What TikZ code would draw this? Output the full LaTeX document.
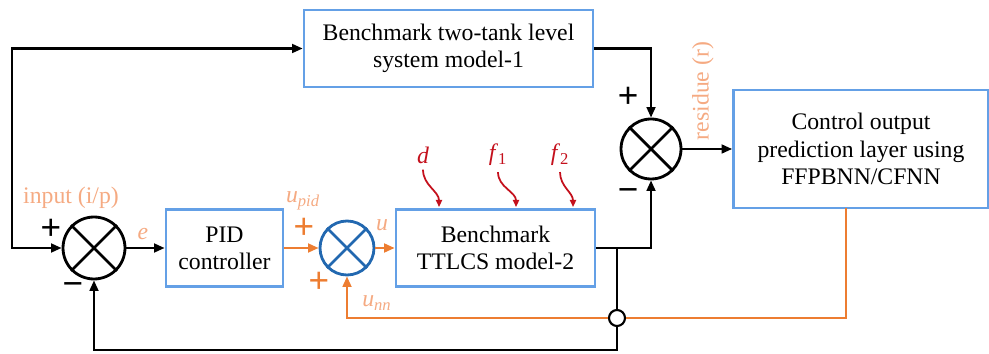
\documentclass[tikz,border=0pt]{standalone}
\usepackage{fontspec}
\setmainfont{Liberation Serif}
\newfontfamily\signfont{Liberation Sans}
\usetikzlibrary{arrows.meta}
\definecolor{boxblue}{HTML}{64A0E6}
\definecolor{sumblue}{HTML}{2268B0}
\definecolor{lineorange}{HTML}{ED7D31}
\definecolor{txtorange}{HTML}{F5AA82}
\definecolor{fred}{HTML}{C4101C}
\begin{document}
\begin{tikzpicture}[x=0.02cm,y=-0.02cm,
	every node/.style={font=\fontsize{13.5}{15.5}\selectfont},
	blockbox/.style={draw=boxblue,line width=1.6pt,align=center,inner sep=0pt},
	sumcirc/.style={circle,draw,line width=1.6pt,minimum size=#1,inner sep=0pt},
	blk/.style={line width=1.3pt,-{Triangle[length=6pt,width=5pt]}},
	blkboth/.style={line width=1.3pt,{Triangle[length=6pt,width=5pt]}-{Triangle[length=6pt,width=5pt]}},
	org/.style={draw=lineorange,line width=1.3pt,-{Triangle[length=6pt,width=5pt]}},
	sq/.style={draw=fred,line width=1pt,-{Triangle[length=4pt,width=3.5pt]}},
	sgn/.style={font=\signfont\fontsize{20}{20}\selectfont,inner sep=0pt},
	olab/.style={text=txtorange,inner sep=0pt}]
	\useasboundingbox (0,0) rectangle (989,354);
	% blocks
	\node[blockbox,minimum width=5.78cm,minimum height=1.54cm] (m1) at (448.5,48.5) {Benchmark two-tank level\\system model-1};
	\node[blockbox,minimum width=2.34cm,minimum height=1.54cm] (pid) at (224.5,248) {PID\\controller};
	\node[blockbox,minimum width=3.98cm,minimum height=1.54cm] (m2) at (495.5,248) {Benchmark\\TTLCS model-2};
	\node[blockbox,minimum width=5.1cm,minimum height=2.36cm] (nn) at (861,149) {Control output\\prediction layer using\\FFPBNN/CFNN};
	% summing points
	\node[sumcirc=1.24cm] (s1) at (94,248) {};
	\node[sumcirc=1.08cm,draw=sumblue] (s2) at (347,248) {};
	\node[sumcirc=1.2cm] (s3) at (651,149) {};
	\draw[line width=1.6pt] (s1.north east) -- (s1.south west) (s1.north west) -- (s1.south east);
	\draw[line width=1.6pt] (s3.north east) -- (s3.south west) (s3.north west) -- (s3.south east);
	\draw[line width=1.6pt,sumblue] (s2.north east) -- (s2.south west) (s2.north west) -- (s2.south east);
	\node[circle,draw,fill=white,line width=1.2pt,minimum width=0.32cm,inner sep=0pt] (hop) at (617,318) {};
	% corners
	\coordinate (bl) at (12,248);
	\coordinate (j1) at (617,248);
	\coordinate (fb) at (617,350);
	\coordinate (nno) at (846,208);
	% black connectors
	\draw[blkboth] (m1.west) -| (bl) -- (s1.west);
	\draw[blk] (s1.east) -- (pid.west);
	\draw[blk] (m1.east) -| (s3.north);
	\draw[blk] (m2.east) -| (s3.south);
	\draw[blk] (s3.east) -- (nn.west);
	\draw[line width=1.3pt] (j1) -- (hop.north);
	\draw[blk] (hop.south) -- (fb) -| (s1.south);
	% orange connectors
	\draw[org] (pid.east) -- (s2.west);
	\draw[org] (s2.east) -- (m2.west);
	\draw[draw=lineorange,line width=1.3pt] (nno) |- (hop.east);
	\draw[org] (hop.west) -| (s2.south);
	% faults and disturbance
	\node[text=fred] (d) at (423,155) {\textit{d}};
	\node[text=fred] (f1) at (498,155) {\textit{f}\textsubscript{1}};
	\node[text=fred] (f2) at (560,155) {\textit{f}\textsubscript{2}};
	\coordinate (dd) at (439,207);
	\coordinate (ff1) at (516,207);
	\coordinate (ff2) at (573,207);
	\draw[sq] (d.south) to[out=-90,in=90] (dd);
	\draw[sq] (f1.south) to[out=-90,in=90] (ff1);
	\draw[sq] (f2.south) to[out=-90,in=90] (ff2);
	% signs
	\node[sgn] (p1) at (51,229) {+};
	\node[sgn] (n1) at (73,289) {−};
	\node[sgn] (p3) at (628,97) {+};
	\node[sgn] (n3) at (628,195) {−};
	\node[sgn,text=lineorange] (p2a) at (304,228) {+};
	\node[sgn,text=lineorange] (p2b) at (319,282) {+};
	% signal labels
	\node[olab] (inp) at (71,198) {input (i/p)};
	\node[olab] (el) at (143,234) {\textit{e}};
	\node[olab] (upid) at (303,201) {\textit{u}\textsubscript{\textit{pid}}};
	\node[olab] (ul) at (382,225) {\textit{u}};
	\node[olab] (unn) at (377,303) {\textit{u}\textsubscript{\textit{nn}}};
	\node[olab,rotate=90] (res) at (703,91) {residue (r)};
\end{tikzpicture}
\end{document}
